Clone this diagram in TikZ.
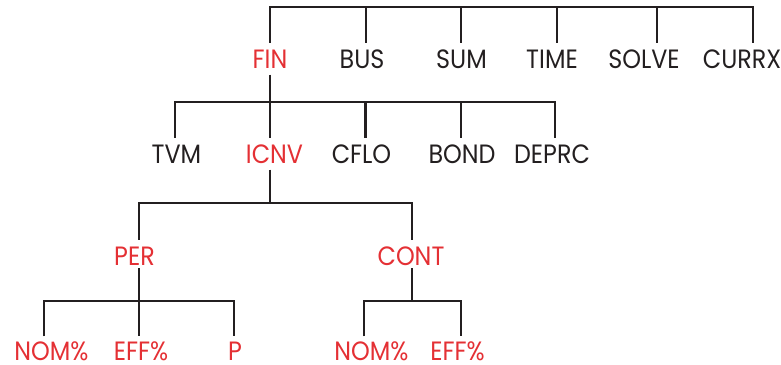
\documentclass[tikz,border=0pt]{standalone}
\usepackage{fontspec}
\newfontfamily\futura[FakeStretch=0.9]{Poppins}
\definecolor{hpred}{RGB}{228,48,52}
\definecolor{ink}{RGB}{35,31,32}
\begin{document}
\begin{tikzpicture}[x=1bp,y=-1bp,
  lbl/.style={font=\futura\fontsize{26.5bp}{30bp}\selectfont, text=ink, anchor=base,
    inner xsep=0pt, inner ysep=6.5bp, text height=18.5bp, text depth=0bp},
  hot/.style={lbl, text=hpred},
  leaf/.style={hot, inner ysep=1bp, text height=24bp},
  bar/.style={draw=ink, line width=1.8bp, line cap=butt, line join=miter},
  stem/.style={draw=ink, line width=2.8bp, line cap=butt}]
\useasboundingbox (0,0) rectangle (781,364);
% bar levels
\coordinate (b1) at (0,7);
\coordinate (b2) at (0,102);
\coordinate (b3) at (0,203);
\coordinate (b4) at (0,301);
% row 1
\node[hot] (fin) at (270,68) {FIN};
\node[lbl] (bus) at (362,68) {BUS};
\node[lbl] (sum) at (461.5,68) {SUM};
\node[lbl] (time) at (552,68) {TIME};
\node[lbl] (solve) at (644,68) {SOLVE};
\node[lbl] (currx) at (742,68) {CURRX};
% row 2
\node[lbl] (tvm) at (176.5,163) {TVM};
\node[hot] (icnv) at (274.5,163) {ICNV};
\node[lbl] (cflo) at (361.5,163) {CFLO};
\node[lbl] (bond) at (462,163) {BOND};
\node[lbl] (deprc) at (552,163) {DEPRC};
% row 3
\node[hot] (per) at (134.5,265) {PER};
\node[hot] (cont) at (411,265) {CONT};
% row 4
\node[leaf] (nomA) at (51.5,360.5) {NOM\%};
\node[leaf] (effA) at (141,360.5) {EFF\%};
\node[leaf] (p) at (235,360.5) {P};
\node[leaf] (nomB) at (371.5,360.5) {NOM\%};
\node[leaf] (effB) at (457.5,360.5) {EFF\%};
% stem tops (above each label) and stem feet (below parents)
\foreach \n/\d in {fin/0,bus/4,sum/-0.5,time/5,solve/13,currx/11,
                   tvm/-1.5,icnv/-4.5,cflo/4,bond/-1,deprc/3,
                   per/4.5,cont/1}
  \path (\n.north) ++(\d,0) coordinate (\n T);
\foreach \n/\d in {nomA/-7.5,effA/-2,p/-1,nomB/-7.5,effB/3.5}
  \path (\n.north) ++(\d,1) coordinate (\n T);
\path (fin.south) coordinate (finB);
\path (icnv.south) ++(-4.5,0) coordinate (icnvB);
\path (per.south) ++(4.5,-3.5) coordinate (perB);
\path (cont.south) ++(1,-3.5) coordinate (contB);
% level 1
\draw[bar] (finT) -- (finT |- b1) -- (currxT |- b1);
\foreach \n in {bus,sum,time,solve,currx}
  \draw[stem] ([yshift=0.9bp]\n T |- b1) -- (\n T);
% level 2
\draw[stem] (finB) -- (finB |- b2);
\draw[bar] (tvmT) -- (tvmT |- b2) -- (deprcT |- b2);
\foreach \n in {icnv,cflo,bond,deprc}
  \draw[stem] ([yshift=0.9bp]\n T |- b2) -- (\n T);
% level 3
\draw[stem] (icnvB) -- (icnvB |- b3);
\draw[bar] (perT) -- (perT |- b3) -- (contT |- b3);
\draw[stem] ([yshift=0.9bp]contT |- b3) -- (contT);
% level 4
\draw[stem] (perB) -- (perB |- b4);
\draw[bar] (nomAT) -- (nomAT |- b4) -- (pT |- b4);
\foreach \n in {effA,p}
  \draw[stem] ([yshift=0.9bp]\n T |- b4) -- (\n T);
\draw[stem] (contB) -- (contB |- b4);
\draw[bar] (nomBT) -- (nomBT |- b4) -- (effBT |- b4);
\draw[stem] ([yshift=0.9bp]effBT |- b4) -- (effBT);
\end{tikzpicture}
\end{document}
